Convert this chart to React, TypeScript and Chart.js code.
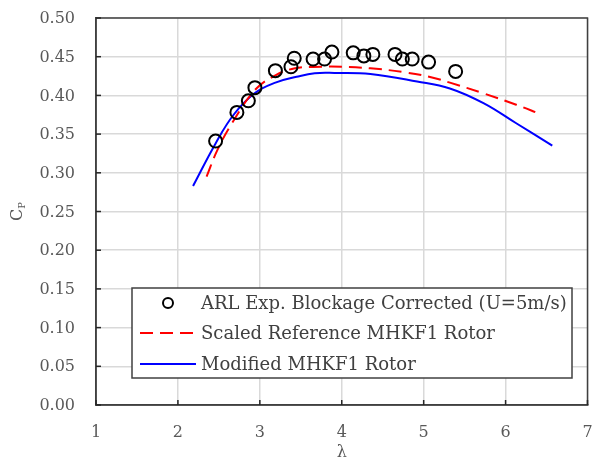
import React, { useEffect, useRef } from "react";
import { Chart, registerables } from "chart.js";
Chart.register(...registerables);

const expLambda = [2.46, 2.72, 2.86, 2.94, 3.19, 3.38, 3.42, 3.65, 3.79, 3.88, 4.14, 4.27, 4.38, 4.65, 4.74, 4.86, 5.06, 5.39];
const expCp = [0.341, 0.378, 0.393, 0.410, 0.432, 0.437, 0.448, 0.447, 0.447, 0.456, 0.455, 0.451, 0.453, 0.453, 0.447, 0.447, 0.443, 0.431];

const refLambda = [2.35, 2.48, 2.66, 2.94, 3.19, 3.43, 3.75, 4.0, 4.35, 4.76, 5.09, 5.32, 5.73, 6.13, 6.42];
const refCp = [0.295, 0.329, 0.364, 0.407, 0.426, 0.435, 0.437, 0.437, 0.435, 0.430, 0.4235, 0.4165, 0.4027, 0.388, 0.376];

const modLambda = [2.185, 2.46, 2.68, 2.94, 3.19, 3.45, 3.67, 3.91, 4.35, 4.92, 5.32, 5.73, 6.13, 6.57];
const modCp = [0.283, 0.338, 0.375, 0.403, 0.4165, 0.424, 0.4286, 0.429, 0.4277, 0.418, 0.409, 0.390, 0.364, 0.335];

const seriesLabels = [
  "ARL Exp. Blockage Corrected (U=5m/s)",
  "Scaled Reference MHKF1 Rotor",
  "Modified MHKF1 Rotor",
];
const xTitle = "λ";
const FONT = "'DejaVu Serif', serif";
const TEXT = "#595959";

const zip = (xs: number[], ys: number[]) => xs.map((x, i) => ({ x, y: ys[i] }));

const overlay = {
  id: "overlay",
  afterDraw(chart: any) {
    const { ctx, chartArea: a, scales } = chart;
    const xs = scales.x, ys = scales.y;
    ctx.save();
    // frame
    ctx.strokeStyle = "#404040";
    ctx.lineWidth = 1.5;
    ctx.strokeRect(a.left, a.top, a.right - a.left, a.bottom - a.top);
    // inner tick marks
    ctx.strokeStyle = "#262626";
    ys.ticks.forEach((t: any) => {
      const y = ys.getPixelForValue(t.value);
      ctx.beginPath(); ctx.moveTo(a.left, y); ctx.lineTo(a.left + 5, y); ctx.stroke();
    });
    xs.ticks.forEach((t: any) => {
      const x = xs.getPixelForValue(t.value);
      ctx.beginPath(); ctx.moveTo(x, a.bottom); ctx.lineTo(x, a.bottom - 5); ctx.stroke();
    });
    // tick labels
    ctx.fillStyle = TEXT;
    ctx.font = `16px ${FONT}`;
    ctx.textAlign = "right";
    ctx.textBaseline = "middle";
    ys.ticks.forEach((t: any) => {
      ctx.fillText(Number(t.value).toFixed(2), 75, ys.getPixelForValue(t.value) + 1);
    });
    ctx.textAlign = "center";
    xs.ticks.forEach((t: any) => {
      ctx.fillText(String(t.value), xs.getPixelForValue(t.value), a.bottom + 28);
    });
    ctx.fillText(xTitle, (a.left + a.right) / 2, a.bottom + 48);
    // y title C_P
    ctx.translate(17, (a.top + a.bottom) / 2);
    ctx.rotate(-Math.PI / 2);
    ctx.textBaseline = "alphabetic";
    ctx.textAlign = "left";
    ctx.font = `16px ${FONT}`;
    const cw = ctx.measureText("C").width;
    ctx.font = `10px ${FONT}`;
    const pw = ctx.measureText("P").width;
    const start = -(cw + pw) / 2;
    ctx.font = `16px ${FONT}`;
    ctx.fillText("C", start, 5);
    ctx.font = `10px ${FONT}`;
    ctx.fillText("P", start + cw, 8);
    ctx.restore();

    // legend
    ctx.save();
    const lx = 132, ly = 288, lw = 440, lh = 90;
    ctx.fillStyle = "#ffffff";
    ctx.fillRect(lx, ly, lw, lh);
    ctx.strokeStyle = "#404040";
    ctx.lineWidth = 1.5;
    ctx.strokeRect(lx, ly, lw, lh);
    const rows = [303, 333, 364];
    const ds = chart.data.datasets;
    ctx.font = `18px ${FONT}`;
    ctx.textBaseline = "middle";
    rows.forEach((ry, i) => {
      const d = ds[i];
      if (i === 0) {
        ctx.beginPath();
        ctx.strokeStyle = "#000";
        ctx.lineWidth = 2;
        ctx.arc(168, ry, 5, 0, Math.PI * 2);
        ctx.stroke();
      } else {
        ctx.beginPath();
        ctx.strokeStyle = d.borderColor;
        ctx.lineWidth = 2;
        ctx.setLineDash(d.borderDash || []);
        ctx.moveTo(140, ry); ctx.lineTo(196, ry);
        ctx.stroke();
        ctx.setLineDash([]);
      }
      ctx.fillStyle = "#404040";
      ctx.fillText(d.label, 201, ry + 1);
    });
    ctx.restore();
  },
};

export default function App() {
  const ref = useRef<HTMLCanvasElement>(null);
  useEffect(() => {
    const chart = new Chart(ref.current!, {
      type: "scatter",
      data: {
        datasets: [
          {
            label: seriesLabels[0],
            data: zip(expLambda, expCp),
            showLine: false,
            pointRadius: 6.5,
            pointBorderWidth: 2,
            pointBorderColor: "#000",
            pointBackgroundColor: "rgba(0,0,0,0)",
            order: 0,
          },
          {
            label: seriesLabels[1],
            data: zip(refLambda, refCp),
            showLine: true,
            borderColor: "#ff0000",
            borderWidth: 2,
            borderDash: [13, 7],
            pointRadius: 0,
            tension: 0.4,
            order: 1,
          },
          {
            label: seriesLabels[2],
            data: zip(modLambda, modCp),
            showLine: true,
            borderColor: "#0000ff",
            borderWidth: 2,
            pointRadius: 0,
            tension: 0.4,
            order: 2,
          },
        ],
      } as any,
      options: {
        animation: false,
        responsive: false,
        layout: { padding: { top: 18, right: 4, left: 0, bottom: 0 } },
        plugins: { legend: { display: false }, tooltip: { enabled: false } },
        scales: {
          x: {
            type: "linear",
            min: 1,
            max: 7,
            ticks: { stepSize: 1, display: false },
            grid: { color: "#d9d9d9", lineWidth: 1.5, tickLength: 0 },
            border: { color: "#404040", width: 1.5 },
            afterFit: (s: any) => { s.height = 57; },
          },
          y: {
            min: 0,
            max: 0.5,
            ticks: { stepSize: 0.05, display: false },
            grid: { color: "#d9d9d9", lineWidth: 1.5, tickLength: 0 },
            border: { color: "#404040", width: 1.5 },
            afterFit: (s: any) => { s.width = 96; },
          },
        } as any,
      },
      plugins: [overlay],
    });
    return () => chart.destroy();
  }, []);
  return (
    <div style={{ position: "absolute", left: 0, top: 0, width: 596, height: 462, background: "#fff" }}>
      <canvas ref={ref} width={596} height={462} style={{ width: 596, height: 462 }} />
    </div>
  );
}
